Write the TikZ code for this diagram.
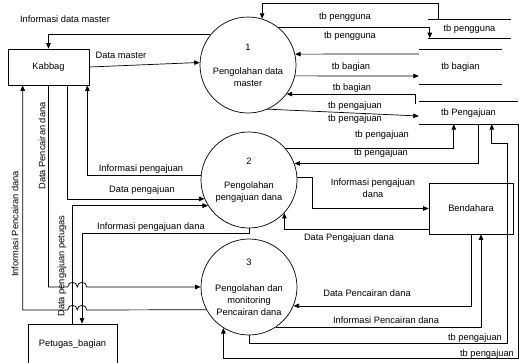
\documentclass[tikz,border=0pt]{standalone}
\usepackage{fontspec}
\setmainfont{Liberation Sans}
\usetikzlibrary{arrows.meta}
\begin{document}
\begin{tikzpicture}[x=1pt,y=-1pt,
  every node/.style={font=\fontsize{9.3}{12}\selectfont, inner sep=0pt},
  proc/.style={circle, draw, line width=0.7pt, minimum size=96pt, align=center},
  ent/.style={rectangle, draw, line width=0.7pt},
  store/.style={rectangle},
  flow/.style={line width=0.7pt, -{Triangle[length=5.5pt,width=4.5pt]}},
  plain/.style={line width=0.7pt}]
\useasboundingbox (0,0) rectangle (519,362);

% entities
\node[ent, minimum width=81pt, minimum height=36pt] (k) at (48.5,67) {Kabbag};
\node[ent, minimum width=84pt, minimum height=51pt] (b) at (471,208.5) {Bendahara};
\node[ent, minimum width=89pt, minimum height=40pt] (pb) at (72.5,344) {Petugas\_bagian};

% processes
\node[proc] (p1) at (248,65) {1\\[12pt]Pengolahan data\\master};
\node[proc] (p2) at (249,180) {2\\[12pt]Pengolahan\\pengajuan dana};
\node[proc] (p3) at (249,287) {3\\[14pt]Pengolahan dan\\monitoring\\Pencairan dana};

% data stores
\node[store, minimum width=83pt, minimum height=18pt] (s1) at (469.5,29) {tb pengguna};
\node[store, minimum width=83pt, minimum height=34pt] (s2) at (460.5,67) {tb bagian};
\node[store, minimum width=99pt, minimum height=22pt] (s3) at (468.5,113) {tb Pengajuan};
\draw[plain] (s1.north west) -- (s1.north east) (s1.south west) -- (s1.south east);
\draw[plain] (s2.north west) -- (s2.north east) (s2.south west) -- (s2.south east);
\draw[plain] (s3.north west) -- (s3.north east) (s3.south west) -- (s3.south east);

% flows around process 1
\draw[flow] ([xshift=11pt]s1.north west) -- ++(0,-16) -| (p1.73);
\draw[flow] (p1.52.4) -| ([xshift=2pt]s1.south west);
\draw[flow] ([yshift=13pt]s2.west) -- (p1.13.25);
\draw[flow] (p1.-13.25) -- ([yshift=-9pt]s2.west);
\draw[flow] ([xshift=-3pt,yshift=-2pt]s3.north west) |- (p1.-37.17);
\draw[flow] (p1.-66.7) -- ([yshift=-3pt]s3.west);
\draw[flow] (p1.141.3) -| (k.north);
\draw[flow] (k.east) -- (p1.177.6);

% flows around process 2
\draw[flow] (p2.175.2) -| ([xshift=-2pt]k.south east);
\draw[flow] ([xshift=60pt]k.south west) |- (p2.203.3);
\draw[flow] (pb.north) |- (p2.212.8);
\draw[flow] (p2.south) -- ++(0,5) -| ([xshift=9.5pt]pb.north);
\draw[flow] (p2.41.8) -| ([xshift=35pt]s3.south west);
\draw[flow] ([xshift=60pt]s3.south west) |- (p2.20.74);
\draw[flow] (p2.3.58) -- ++(15,0) |- (b.west);
\draw[flow] ([yshift=-20.5pt]b.west) -| (p2.-43.2);

% flows around process 3
\draw[flow] (k.south) |- (67.75,287) arc[start angle=180,end angle=0,radius=4.75pt]
  arc[start angle=180,end angle=0,radius=4.75pt] -- (p3.west);
\draw[flow] (p3.208.6) -- (86.75,310) arc[start angle=0,end angle=180,radius=4.75pt]
  arc[start angle=0,end angle=180,radius=4.75pt] -| ([xshift=15pt]k.south west);
\draw[flow] (b.south) |- (p3.-23.3);
\draw[flow] (p3.-56.44) -| ([xshift=10pt]b.south);
\draw[flow] (p3.south) -- ++(0,8) -| (507,143) -| ([xshift=73pt]s3.south west);
\draw[flow] (s3.south east) -- ++(0,234) -| (p3.238.6);

% labels
\node (t1) at (65,19) {Informasi data master};
\node (t2) at (121,55) {Data master};
\node (t3) at (345,17) {tb pengguna};
\node (t4) at (350,36) {tb pengguna};
\node (t5) at (351,67) {tb bagian};
\node (t6) at (352,88) {tb bagian};
\node (t7) at (355,106) {tb pengajuan};
\node (t8) at (355,119) {tb pengajuan};
\node (t9) at (382,135) {tb pengajuan};
\node (t10) at (381,153) {tb pengajuan};
\node[align=center] (t11) at (373,188) {Informasi pengajuan\\dana};
\node (t12) at (349,238) {Data Pengajuan dana};
\node (t13) at (141,169) {Informasi pengajuan};
\node (t14) at (142,190) {Data pengajuan};
\node (t15) at (151,227) {Informasi pengajuan dana};
\node[rotate=90] (t16) at (42,146) {Data Pencairan dana};
\node[rotate=90] (t17) at (15,224) {Informasi Pencairan dana};
\node[rotate=90] (t18) at (62,266) {Data pengajuan petugas};
\node (t19) at (367,293) {Data Pencairan dana};
\node (t20) at (386,320) {Informasi Pencairan dana};
\node (t21) at (475,338) {tb pengajuan};
\node (t22) at (487,354) {tb pengajuan};
\end{tikzpicture}
\end{document}
